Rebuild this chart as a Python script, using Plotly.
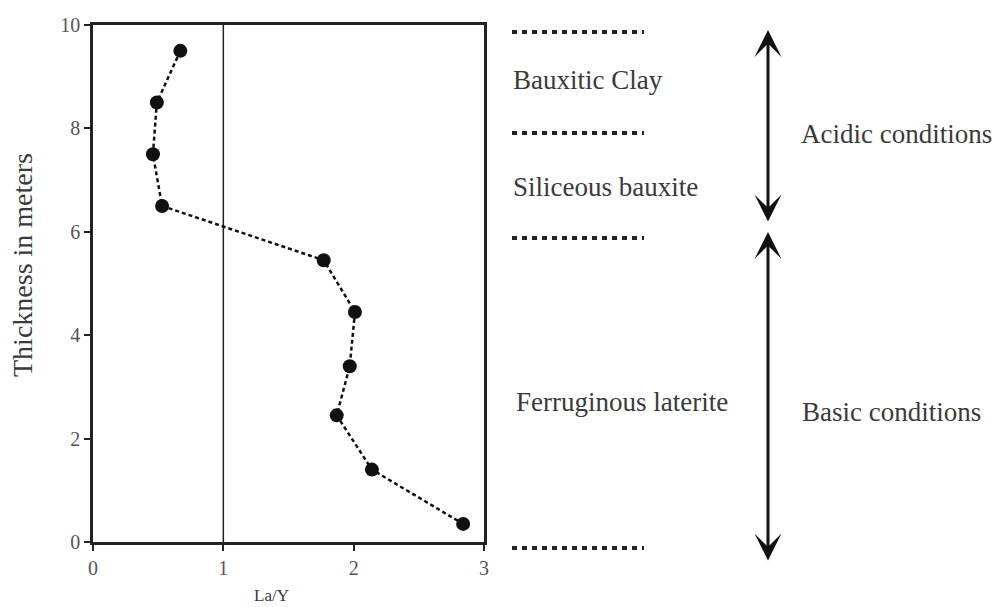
import plotly.graph_objects as go

# Data
la_y = [0.67, 0.49, 0.46, 0.53, 1.77, 2.01, 1.97, 1.87, 2.14, 2.84]
thickness = [9.5, 8.5, 7.5, 6.5, 5.45, 4.45, 3.4, 2.45, 1.4, 0.35]
x_ticks = [0, 1, 2, 3]
y_ticks = [0, 2, 4, 6, 8, 10]
ref_line_x = 1

layer_labels = ["Bauxitic Clay", "Siliceous bauxite", "Ferruginous laterite"]
condition_labels = ["Acidic conditions", "Basic conditions"]

FONT = "Liberation Serif, Times New Roman, serif"
TXT = "#3a3a3a"

fig = go.Figure()
fig.add_trace(go.Scatter(
    x=la_y, y=thickness, mode="lines+markers",
    line=dict(color="#111", width=2.5, dash="4px,3px"),
    marker=dict(color="#111", size=14),
    showlegend=False, cliponaxis=False,
))

# plot-area paper coordinate helpers (plot area: x 93..484 px, y 25..542 px)
L, R, T, B = 93, 484, 25, 542
def px(p):
    return (p - L) / (R - L)
def py(p):
    return (B - p) / (B - T)

shapes = [
    dict(type="line", xref="x", yref="paper", x0=ref_line_x, x1=ref_line_x, y0=0, y1=1,
         line=dict(color="#222", width=1.5), layer="below"),
]
for yy in [32, 133, 238, 548]:
    shapes.append(dict(type="line", xref="paper", yref="paper",
                       x0=px(512), x1=px(644), y0=py(yy), y1=py(yy),
                       line=dict(color="#222", width=4, dash="5px,5px")))

annotations = [
    dict(text=layer_labels[0], x=px(511), y=py(80), xanchor="left", yanchor="middle"),
    dict(text=layer_labels[1], x=px(511), y=py(187), xanchor="left", yanchor="middle"),
    dict(text=layer_labels[2], x=px(514), y=py(402), xanchor="left", yanchor="middle"),
    dict(text=condition_labels[0], x=px(799), y=py(134), xanchor="left", yanchor="middle"),
    dict(text=condition_labels[1], x=px(800), y=py(412), xanchor="left", yanchor="middle"),
]
for a in annotations:
    a.update(xref="paper", yref="paper", showarrow=False,
             font=dict(family=FONT, size=27, color=TXT))

# axis titles
annotations.append(dict(text="Thickness in meters", xref="paper", yref="paper",
                        x=px(22), y=py(265), textangle=-90, showarrow=False,
                        xanchor="center", yanchor="middle",
                        font=dict(family=FONT, size=28, color=TXT)))
annotations.append(dict(text="La/Y", xref="paper", yref="paper",
                        x=px(271), y=py(595), showarrow=False,
                        xanchor="center", yanchor="middle",
                        font=dict(family=FONT, size=17, color=TXT)))

# double-headed arrows
for tip, tail in [(30, 223), (232, 562)]:
    annotations.append(dict(text="", xref="paper", yref="paper",
                            x=px(768), y=py(tip), ax=0, ay=tail - tip,
                            axref="pixel", ayref="pixel",
                            showarrow=True, arrowside="end+start",
                            arrowhead=3, startarrowhead=3,
                            arrowsize=1.5, startarrowsize=1.5,
                            arrowwidth=3, arrowcolor="#111",
                            standoff=0, startstandoff=0))

fig.update_layout(
    width=1000, height=607,
    margin=dict(l=L, r=1000 - R, t=T, b=607 - B, pad=0),
    paper_bgcolor="white", plot_bgcolor="white",
    shapes=shapes, annotations=annotations,
    showlegend=False,
)
fig.update_xaxes(range=[0, 3], tickvals=x_ticks, showgrid=False, zeroline=False,
                 showline=True, linecolor="#222", linewidth=2.5, mirror=True,
                 ticks="outside", ticklen=6, tickwidth=1.5, tickcolor="#222",
                 tickfont=dict(family=FONT, size=20, color="#555"))
fig.update_yaxes(range=[0, 10], tickvals=y_ticks, showgrid=False, zeroline=False,
                 showline=True, linecolor="#222", linewidth=2.5, mirror=True,
                 ticks="outside", ticklen=6, tickwidth=1.5, tickcolor="#222",
                 tickfont=dict(family=FONT, size=20, color="#555"))

fig.write_html("out.html", config={"displayModeBar": False},
               post_script="document.body.style.margin='0';document.body.style.overflow='hidden';")
